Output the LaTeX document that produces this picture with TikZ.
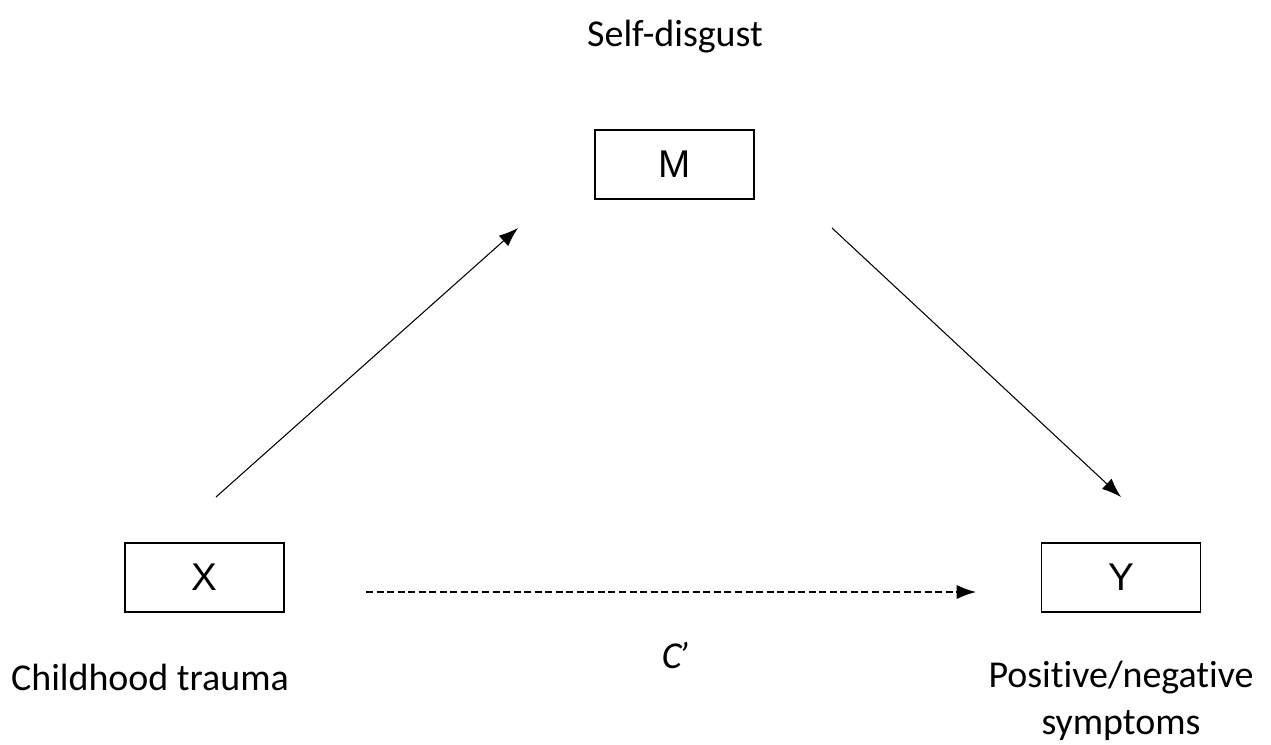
\documentclass[tikz,border=0pt]{standalone}
\usepackage{fontspec}
\setmainfont{Carlito}[Ligatures=NoCommon]
\newfontfamily\boxfont{Liberation Sans}
\usetikzlibrary{arrows.meta}
\begin{document}
\begin{tikzpicture}[x=0.02cm, y=-0.02cm,
    every node/.style={font=\fontsize{21.6}{27}\selectfont},
    varbox/.style={draw, line width=1.1pt, minimum width=3.18cm, minimum height=1.38cm, inner sep=0pt,
        font=\boxfont\fontsize{22}{26}\selectfont},
    path/.style={line width=0.6pt, -{Latex[length=11pt, width=8pt]}}]
    \useasboundingbox (0,0) rectangle (1271,744);

    \node[varbox] (m) at (674.5,164.5) {M};
    \node[varbox] (x) at (204.5,577.5) {X};
    \node[varbox] (y) at (1121,577.5) {Y};

    \node (mlab) at (675,37) {Self-disgust};
    \node (xlab) at (150,677) {Childhood trauma};
    \node[align=center] (ylab) at (1121,701) {Positive/negative\\symptoms};
    \node (clab) at (675,655) {\itshape C\kern-0.08em’};

    \coordinate (a1) at (216,497);
    \coordinate (a2) at (518,228);
    \coordinate (b1) at (832,228);
    \coordinate (b2) at (1121,497);
    \coordinate (c1) at (366,592);
    \coordinate (c2) at (976,592);

    \draw[path] (a1) -- (a2);
    \draw[path] (b1) -- (b2);
    \draw[path, dash pattern=on 4pt off 2pt] (c1) -- (c2);
\end{tikzpicture}
\end{document}
